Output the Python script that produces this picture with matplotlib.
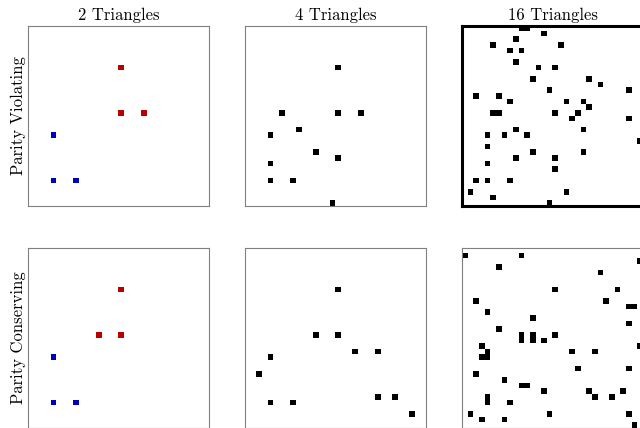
import numpy as np
import matplotlib
matplotlib.use('Agg')
import matplotlib.pyplot as plt

# 格子の大きさ (32 x 32)
N = 32

# 2 Triangles: 青と赤の三角形の頂点 (x, y)
violate_2_blue = [(4, 4), (8, 4), (4, 12)]
violate_2_red = [(16, 16), (20, 16), (16, 24)]
conserve_2_blue = [(4, 4), (8, 4), (4, 12)]
conserve_2_red = [(12, 16), (16, 16), (16, 24)]

# 4 Triangles
violate_4 = [(16, 24), (6, 16), (16, 16), (20, 16), (9, 13), (4, 12),
             (12, 9), (16, 8), (4, 7), (4, 4), (8, 4), (15, 0)]
conserve_4 = [(16, 24), (12, 16), (16, 16), (19, 13), (23, 13), (4, 12),
              (2, 9), (23, 5), (26, 5), (4, 4), (8, 4), (29, 2)]

# 16 Triangles
violate_16 = [(10, 31), (11, 31), (14, 30), (9, 29), (5, 28), (17, 28),
              (8, 27), (10, 27), (9, 25), (13, 24), (16, 24), (12, 22),
              (22, 22), (24, 21), (15, 20), (29, 20), (2, 19), (6, 19),
              (8, 18), (18, 18), (21, 18), (22, 17), (5, 16), (6, 16),
              (16, 16), (20, 16), (19, 15), (29, 15), (9, 13), (21, 13),
              (4, 12), (7, 12), (11, 12), (31, 11), (4, 10), (12, 9),
              (21, 9), (9, 8), (16, 8), (4, 7), (16, 6), (2, 4),
              (4, 4), (8, 4), (1, 2), (18, 2), (5, 1), (15, 0)]
conserve_16 = [(0, 30), (10, 30), (31, 29), (6, 28), (24, 27), (16, 24),
               (27, 24), (2, 22), (25, 22), (29, 21), (30, 21), (4, 20),
               (12, 19), (29, 18), (6, 17), (10, 16), (10, 15), (12, 16),
               (12, 15), (14, 15), (16, 16), (31, 14), (3, 14), (4, 13),
               (3, 12), (4, 12), (19, 13), (23, 13), (2, 9), (20, 10),
               (29, 10), (7, 8), (10, 7), (11, 7), (14, 6), (22, 6),
               (23, 5), (26, 5), (28, 6), (4, 5), (4, 4), (8, 4),
               (1, 2), (15, 2), (29, 2), (3, 1), (7, 1), (30, 0)]

col_titles = ['2 Triangles', '4 Triangles', '16 Triangles']
row_labels = ['Parity Violating', 'Parity Conserving']

BLUE = (0.0, 0.0, 0.72)
RED = (0.72, 0.0, 0.0)
BLACK = (0.0, 0.0, 0.0)


# 点のリストから RGB の格子を作る
def make_grid(groups):
    grid = np.ones((N, N, 3))
    for points, color in groups:
        for x, y in points:
            grid[y, x] = color
    return grid


panels = [
    [make_grid([(violate_2_blue, BLUE), (violate_2_red, RED)]),
     make_grid([(violate_4, BLACK)]),
     make_grid([(violate_16, BLACK)])],
    [make_grid([(conserve_2_blue, BLUE), (conserve_2_red, RED)]),
     make_grid([(conserve_4, BLACK)]),
     make_grid([(conserve_16, BLACK)])],
]

plt.rcParams['font.family'] = 'cmr10'
plt.rcParams['axes.formatter.use_mathtext'] = True

W, H = 640, 428
fig = plt.figure(figsize=(W / 100, H / 100), dpi=100)

lefts = [28.4, 245.2, 462.4]
tops = [25.7, 247.6]
size = 180.5

for r in range(2):
    for c in range(3):
        l, t = lefts[c], tops[r]
        ax = fig.add_axes([l / W, 1 - (t + size) / H, size / W, size / H])
        ax.imshow(panels[r][c], origin='lower', interpolation='nearest',
                  aspect='auto')
        ax.set_xticks([])
        ax.set_yticks([])
        # 16 Triangles の上段だけ太い黒枠
        if r == 0 and c == 2:
            for s in ax.spines.values():
                s.set_color('black')
                s.set_linewidth(2.2)
        else:
            for s in ax.spines.values():
                s.set_color('#808080')
                s.set_linewidth(0.8)
        if r == 0:
            ax.set_title(col_titles[c], fontsize=12, pad=4)
        if c == 0:
            ax.set_ylabel(row_labels[r], fontsize=12, labelpad=2)

fig.savefig('out.png', dpi=100)
